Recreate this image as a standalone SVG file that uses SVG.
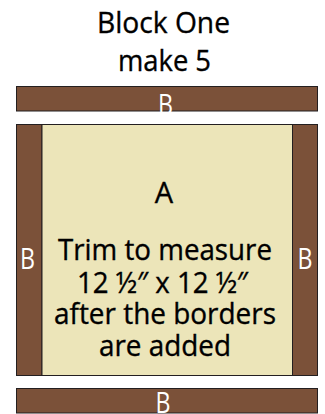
<svg xmlns="http://www.w3.org/2000/svg" width="325" height="414" viewBox="0 0 325 414">
<style>
.b{fill:#7B5139;stroke:#231F20;stroke-width:1}
.a{fill:#ECE5B9;stroke:#231F20;stroke-width:1}
text{font-family:"Open Sans","Noto Sans","Liberation Sans",sans-serif;text-anchor:middle;font-size:29px}
.t{fill:#000;stroke:#000;stroke-width:0.35}
.w{fill:#fff}
</style>
<rect width="325" height="414" fill="#fff"/>
<g id="title">
<text class="t" x="163.5" y="33" textLength="133" lengthAdjust="spacingAndGlyphs">Block One</text>
<text class="t" x="164.5" y="71" textLength="93" lengthAdjust="spacingAndGlyphs">make 5</text>
</g>
<g id="top-B">
<rect class="b" x="16.5" y="86.5" width="301" height="24.5"/>
<text class="w" x="165.5" y="114.5" textLength="15" lengthAdjust="spacingAndGlyphs">B</text>
</g>
<g id="left-B">
<rect class="b" x="16.5" y="124.5" width="25.5" height="251"/>
<text class="w" x="27.5" y="269.3" textLength="15" lengthAdjust="spacingAndGlyphs">B</text>
</g>
<g id="right-B">
<rect class="b" x="292.5" y="124.5" width="25" height="251"/>
<text class="w" x="305" y="269.3" textLength="15" lengthAdjust="spacingAndGlyphs">B</text>
</g>
<g id="A">
<rect class="a" x="42" y="124.5" width="250.5" height="251"/>
<text class="t" x="164" y="203">A</text>
<text class="t" x="165" y="260" textLength="214" lengthAdjust="spacingAndGlyphs">Trim to measure</text>
<text class="t" x="162.5" y="292.5" textLength="171" lengthAdjust="spacingAndGlyphs">12 ½″ x 12 ½″</text>
<text class="t" x="165" y="324" textLength="222" lengthAdjust="spacingAndGlyphs">after the borders</text>
<text class="t" x="165" y="355.7" textLength="132" lengthAdjust="spacingAndGlyphs">are added</text>
</g>
<g id="bottom-B">
<rect class="b" x="16.5" y="388.5" width="301" height="24.5"/>
<text class="w" x="163" y="412.5" textLength="15" lengthAdjust="spacingAndGlyphs">B</text>
</g>
<g id="connectors"/>
</svg>
